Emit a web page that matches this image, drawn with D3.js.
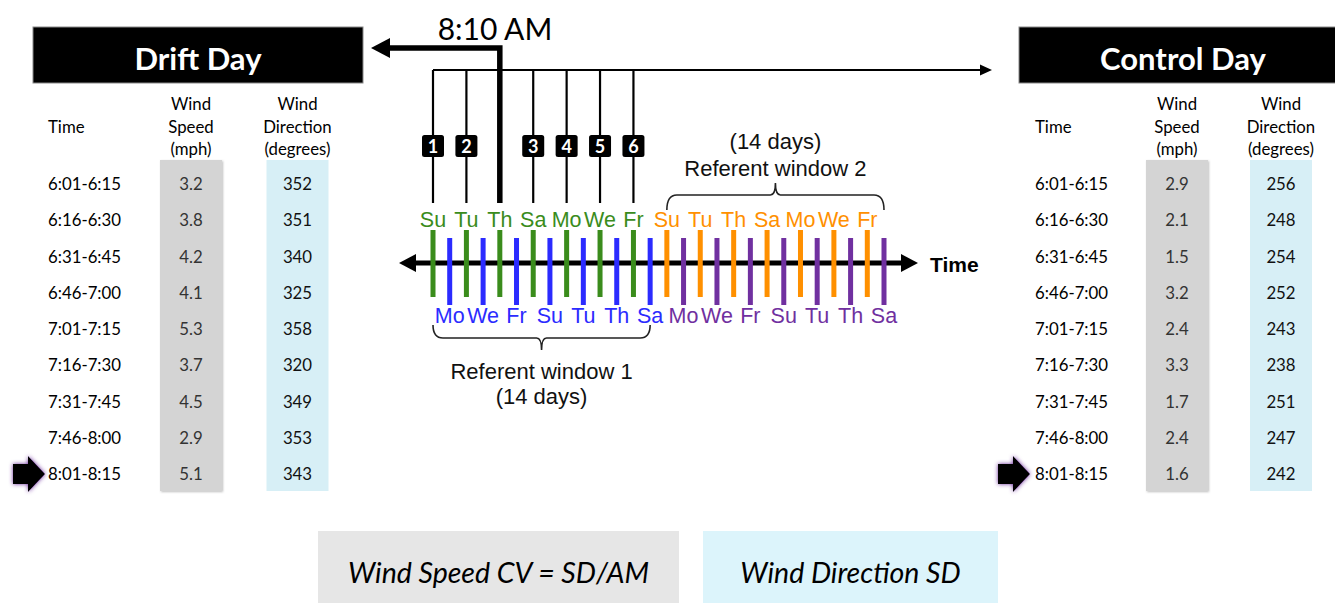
<!DOCTYPE html>
<html><head><meta charset="utf-8">
<script src="https://cdn.jsdelivr.net/npm/d3@7"></script>
<style>body{margin:0;background:#fff}svg{display:block}</style>
</head><body><svg id="c" width="1335" height="603"></svg>
<script>
// ---- data ----
const times = ["6:01-6:15","6:16-6:30","6:31-6:45","6:46-7:00","7:01-7:15","7:16-7:30","7:31-7:45","7:46-8:00","8:01-8:15"];
const driftSpeed = [3.2,3.8,4.2,4.1,5.3,3.7,4.5,2.9,5.1];
const driftDir = [352,351,340,325,358,320,349,353,343];
const controlSpeed = [2.9,2.1,1.5,3.2,2.4,3.3,1.7,2.4,1.6];
const controlDir = [256,248,254,252,243,238,251,247,242];
const dayLabels = ["Su","Mo","Tu","We","Th","Fr","Sa","Su","Mo","Tu","We","Th","Fr","Sa",
                   "Su","Mo","Tu","We","Th","Fr","Sa","Su","Mo","Tu","We","Th","Fr","Sa"];
const sampleDays = [0,2,6,8,10,12];
const sampleNums = ["1","2","3","4","5","6"];
const eventDay = 4;
const eventLabel = "8:10 AM";
const headerSpeed = ["Wind","Speed","(mph)"];
const headerDir = ["Wind","Direction","(degrees)"];
const boxLabels = ["Wind Speed CV = SD/AM","Wind Direction SD"];

// ---- setup ----
const svg = d3.select("#c");
const tfont = "Lato, 'Open Sans', sans-serif";
const afont = "'Liberation Sans', Arial, sans-serif";
const x = d3.scaleLinear().domain([0,27]).range([433,884]);
const rowY = d3.scalePoint().domain(times).range([184,474]);
const colTop = {0:"#3a8c1c",1:"#ff9000"}, colBot = {0:"#2b2bff",1:"#7030a0"};

const defs = svg.append("defs");
const f = defs.append("filter").attr("id","glow").attr("x","-40%").attr("y","-40%").attr("width","180%").attr("height","180%");
f.append("feDropShadow").attr("dx",0).attr("dy",0).attr("stdDeviation",2.2).attr("flood-color","#6a2a9a").attr("flood-opacity",1);
const sh = defs.append("filter").attr("id","sh").attr("x","-20%").attr("y","-20%").attr("width","140%").attr("height","140%");
sh.append("feDropShadow").attr("dx",1).attr("dy",1).attr("stdDeviation",1.2).attr("flood-color","#000").attr("flood-opacity",0.25);

// ---- tables ----
function table(cfg, speed, dir){
  const g = svg.append("g");
  g.append("rect").attr("x",cfg.hx0).attr("y",27).attr("width",cfg.hx1-cfg.hx0).attr("height",56)
    .attr("fill","#000").attr("stroke","#888").attr("stroke-width",1);
  g.append("text").attr("x",cfg.hc).attr("y",70).attr("text-anchor","middle")
    .attr("font-family",tfont).attr("font-weight",700).attr("font-size",31).attr("fill","#fff").text(cfg.title);
  // columns
  g.append("rect").attr("x",cfg.sc-31).attr("y",160).attr("width",62).attr("height",331).attr("fill","#d4d4d4").attr("filter","url(#sh)");
  g.append("rect").attr("x",cfg.dc-31).attr("y",160).attr("width",62).attr("height",331).attr("fill","#d7eff6");
  const fs = 16.8;
  // headers
  g.append("text").attr("x",cfg.tx).attr("y",133).attr("font-family",tfont).attr("font-size",fs).attr("fill","#000").text("Time");
  headerSpeed.forEach((t,i)=>g.append("text").attr("x",cfg.sc).attr("y",110+i*22.5).attr("text-anchor","middle")
    .attr("font-family",tfont).attr("font-size",fs).text(t));
  headerDir.forEach((t,i)=>g.append("text").attr("x",cfg.dc).attr("y",110+i*22.5).attr("text-anchor","middle")
    .attr("font-family",tfont).attr("font-size",fs).text(t));
  // rows
  g.selectAll(".t").data(times).join("text").attr("x",cfg.tx).attr("y",d=>rowY(d)+6)
    .attr("font-family",tfont).attr("font-size",fs).text(d=>d);
  g.selectAll(".s").data(speed).join("text").attr("x",cfg.sc).attr("y",(d,i)=>rowY(times[i])+6).attr("text-anchor","middle")
    .attr("font-family",tfont).attr("font-size",fs).attr("fill","#333").text(d=>d.toFixed(1));
  g.selectAll(".d").data(dir).join("text").attr("x",cfg.dc).attr("y",(d,i)=>rowY(times[i])+6).attr("text-anchor","middle")
    .attr("font-family",tfont).attr("font-size",fs).attr("fill","#111").text(d=>d);
  // arrow pointing at last row
  const ay = rowY(times[times.length-1]), ax = cfg.ax;
  g.append("path").attr("d",`M${ax},${ay-10}L${ax+15},${ay-10}L${ax+15},${ay-18}L${ax+32},${ay}L${ax+15},${ay+18}L${ax+15},${ay+10}L${ax},${ay+10}Z`)
    .attr("fill","#000").attr("filter","url(#glow)");
}
table({hx0:33,hx1:363,hc:198,title:"Drift Day",tx:48,sc:191,dc:297.5,ax:13}, driftSpeed, driftDir);
table({hx0:1019,hx1:1340,hc:1183,title:"Control Day",tx:1035,sc:1177,dc:1281,ax:998}, controlSpeed, controlDir);

// ---- timeline ----
const tl = svg.append("g");
// sampling lines
tl.append("line").attr("x1",x(0)).attr("x2",982).attr("y1",70).attr("y2",70).attr("stroke","#000").attr("stroke-width",2);
tl.append("path").attr("d","M992,70L980,64.5L980,75.5Z").attr("fill","#000");
tl.selectAll(".sl").data(sampleDays).join("line").attr("x1",d=>x(d)).attr("x2",d=>x(d)).attr("y1",70).attr("y2",203)
  .attr("stroke","#000").attr("stroke-width",2.2);
tl.append("path").attr("d",`M${x(eventDay)},203L${x(eventDay)},48L388,48`).attr("fill","none").attr("stroke","#000").attr("stroke-width",5.5);
tl.append("path").attr("d","M371,48L390,38L390,58Z").attr("fill","#000");
tl.append("text").attr("x",495).attr("y",40).attr("text-anchor","middle").attr("font-family",tfont).attr("font-size",30).text(eventLabel);
// number boxes
const nb = tl.selectAll(".nb").data(sampleDays).join("g").attr("transform",d=>`translate(${x(d)},146)`);
nb.append("rect").attr("x",-11).attr("y",-11).attr("width",22).attr("height",22).attr("rx",2.5).attr("fill","#000");
nb.append("text").attr("y",6.5).attr("text-anchor","middle").attr("font-family",tfont).attr("font-weight",700)
  .attr("font-size",18).attr("fill","#fff").text((d,i)=>sampleNums[i]);

// main axis
tl.append("line").attr("x1",412).attr("x2",905).attr("y1",263).attr("y2",263).attr("stroke","#000").attr("stroke-width",5);
tl.append("path").attr("d","M399,263L416,254L416,272Z").attr("fill","#000");
tl.append("path").attr("d","M918,263L901,254L901,272Z").attr("fill","#000");

// day bars
const idx = d3.range(dayLabels.length);
tl.selectAll(".bar").data(idx).join("rect")
  .attr("x",d=>x(d)-2.5).attr("width",5)
  .attr("y",d=>d%2===0?230:238).attr("height",67)
  .attr("fill",d=>(d%2===0?colTop:colBot)[d<14?0:1]);
tl.selectAll(".dl").data(idx).join("text")
  .attr("x",d=>x(d)).attr("y",d=>d%2===0?227:323).attr("text-anchor","middle")
  .attr("font-family",afont).attr("font-size",21.5)
  .attr("fill",d=>(d%2===0?colTop:colBot)[d<14?0:1]).text(d=>dayLabels[d]);

tl.append("text").attr("x",930).attr("y",272).attr("font-family",afont).attr("font-weight",700).attr("font-size",21).text("Time");

// braces
function brace(x0,x1,yEdge,yMid,dir){
  const xm=(x0+x1)/2, r=5;
  return `M${x0},${yEdge}Q${x0},${yMid} ${x0+r*2},${yMid}L${xm-r},${yMid}Q${xm},${yMid} ${xm},${yMid+dir*12}`+
         `M${x1},${yEdge}Q${x1},${yMid} ${x1-r*2},${yMid}L${xm+r},${yMid}Q${xm},${yMid} ${xm},${yMid+dir*12}`;
}
tl.append("path").attr("d",brace(x(0),x(13),325,338,1)).attr("fill","none").attr("stroke","#222").attr("stroke-width",1.6);
tl.append("path").attr("d",brace(x(14),x(27),210,195,-1)).attr("fill","none").attr("stroke","#222").attr("stroke-width",1.6);
const rw1x=(x(0)+x(13))/2, rw2x=(x(14)+x(27))/2;
const rfs = 22;
tl.append("text").attr("x",rw1x).attr("y",379).attr("text-anchor","middle").attr("font-family",afont).attr("font-size",rfs).attr("fill","#111").text("Referent window 1");
tl.append("text").attr("x",rw1x).attr("y",404).attr("text-anchor","middle").attr("font-family",afont).attr("font-size",rfs).attr("fill","#111").text("(14 days)");
tl.append("text").attr("x",rw2x).attr("y",149).attr("text-anchor","middle").attr("font-family",afont).attr("font-size",rfs).attr("fill","#111").text("(14 days)");
tl.append("text").attr("x",rw2x).attr("y",176).attr("text-anchor","middle").attr("font-family",afont).attr("font-size",rfs).attr("fill","#111").text("Referent window 2");

// ---- bottom boxes ----
const boxes = [{x0:318,x1:679,fill:"#e6e6e6"},{x0:703,x1:998,fill:"#dcf4fb"}];
boxes.forEach((b,i)=>{
  svg.append("rect").attr("x",b.x0).attr("y",531).attr("width",b.x1-b.x0).attr("height",72).attr("fill",b.fill);
  svg.append("text").attr("x",(b.x0+b.x1)/2).attr("y",583).attr("text-anchor","middle").attr("font-family",tfont)
    .attr("font-style","italic").attr("font-size",28.5).attr("fill","#000").text(boxLabels[i]);
});
</script></body></html>
